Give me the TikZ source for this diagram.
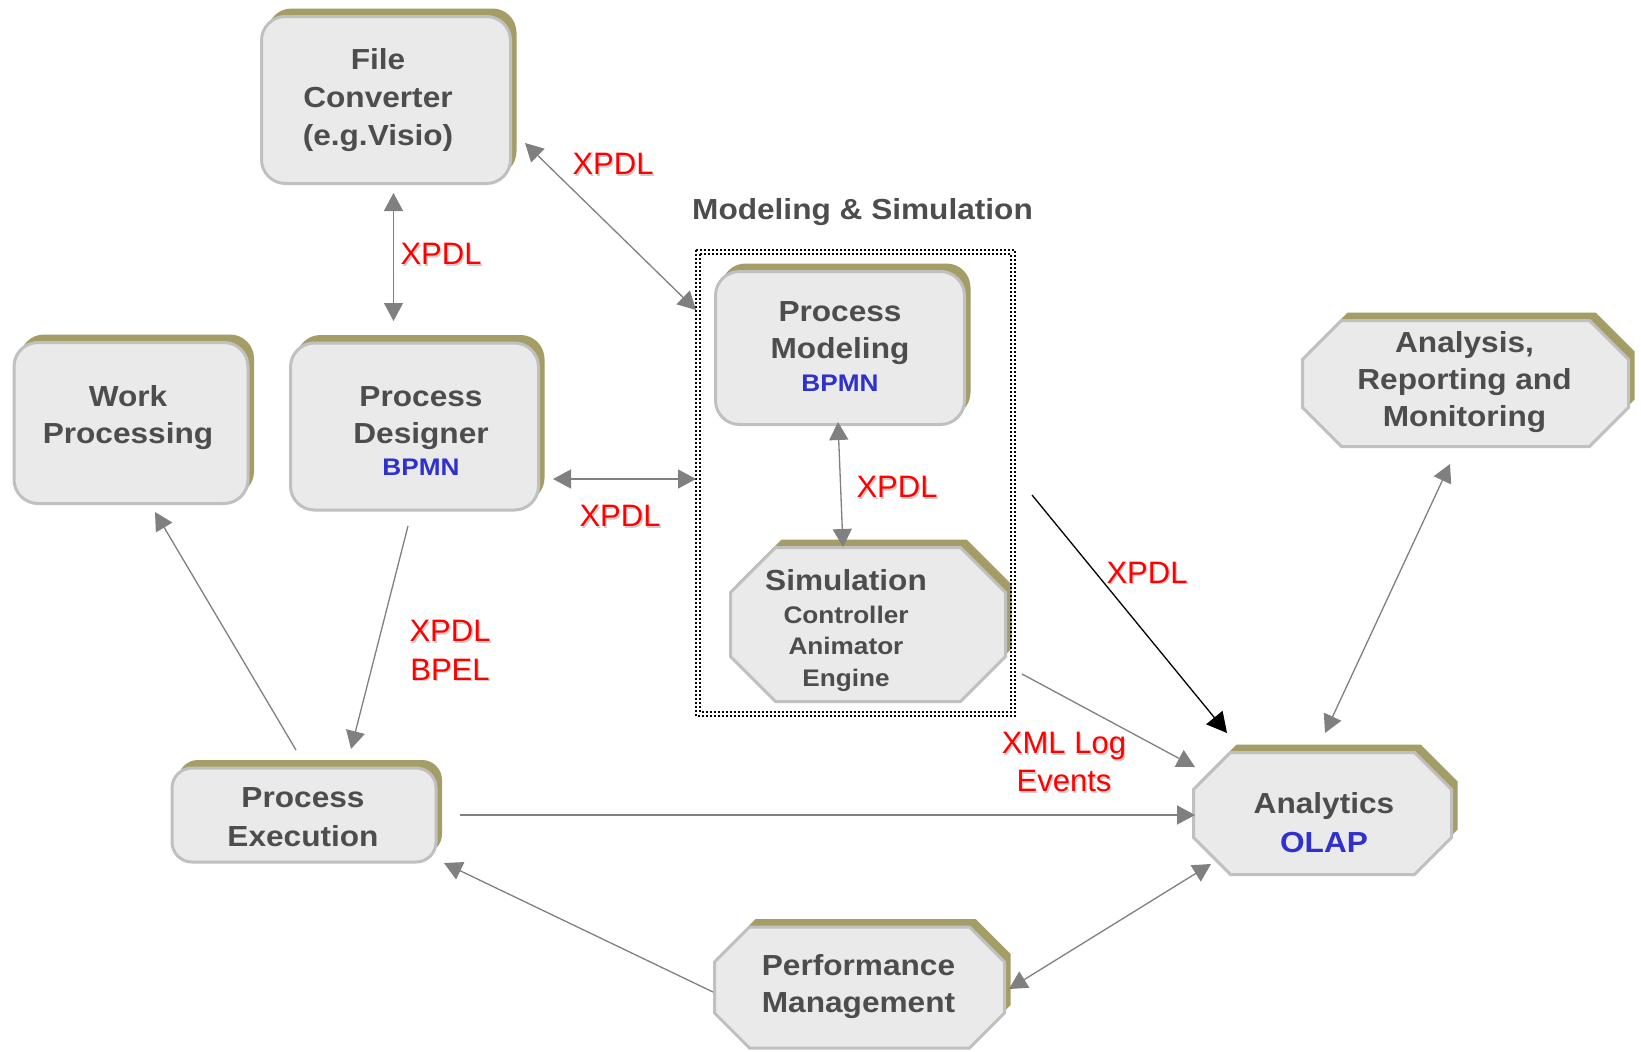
\documentclass[tikz,border=0pt]{standalone}
\usepackage{fontspec}
\setmainfont{Liberation Sans}
\newfontfamily\bx[FakeStretch=1.09]{Liberation Sans}
\usetikzlibrary{arrows.meta,shadows}
\definecolor{txtgray}{RGB}{77,77,77}
\definecolor{boxfill}{RGB}{234,234,234}
\definecolor{boxline}{RGB}{192,192,192}
\definecolor{olivesh}{RGB}{164,158,102}
\definecolor{bpmnblue}{RGB}{48,48,204}
\definecolor{arrgray}{RGB}{128,128,128}
\definecolor{shadgray}{RGB}{205,205,205}
\newcommand\fs{\rule{0pt}{24pt}}
\newcommand\octpath[3]{({-#1+#3},{-#2}) -- ({#1-#3},{-#2}) -- (#1,{-#2+#3}) -- (#1,{#2-#3}) -- ({#1-#3},#2) -- ({-#1+#3},#2) -- ({-#1},{#2-#3}) -- ({-#1},{-#2+#3}) -- cycle}
\newcommand\octbox[6]{%
  \begin{scope}[shift={(#2,#3)}]
    \fill[olivesh,shift={(6,-8)}] \octpath{#4}{#5}{#6};
    \filldraw[fill=boxfill,draw=boxline,line width=3pt] \octpath{#4}{#5}{#6};
  \end{scope}
  \node[inner sep=0pt,outer sep=0pt,minimum width={2*#4+3},minimum height={2*#5+3}] (#1) at (#2,#3) {};}
\newcommand\redlab[4]{%
  \node[rl,text=shadgray] (#1s) at ({#2+1.5},{#3+1.5}) {\fs #4};
  \node[rl] (#1) at (#2,#3) {\fs #4};}
\newcommand\subfnt{\fontsize{24}{28}\selectfont}
\begin{document}
\begin{tikzpicture}[x=1pt,y=-1pt,
  rbox/.style={rectangle,rounded corners=24pt,fill=boxfill,draw=boxline,line width=3pt,inner sep=0pt,
    general shadow={fill=olivesh,shadow xshift=6pt,shadow yshift=8pt}},
  tx/.style={anchor=north,inner sep=0pt,align=center,text=txtgray,font=\bx\bfseries\fontsize{29}{37.5}\selectfont},
  rl/.style={anchor=north,inner sep=0pt,align=center,text=red,font=\fontsize{31}{38.5}\selectfont},
  con/.style={draw=arrgray,line width=1.3pt},
  bi/.style={con,{Triangle[length=18pt,width=19pt]}-{Triangle[length=18pt,width=19pt]}},
  uni/.style={con,-{Triangle[length=18pt,width=19pt]}},
  blk/.style={draw=black,line width=1.3pt,-{Triangle[length=20pt,width=21pt]}}
]
\fill[white] (0,0) rectangle (1641,1052);
\useasboundingbox (0,0) rectangle (1641,1052);

% rounded boxes
\node[rbox,minimum width=249pt,minimum height=167pt] (fc) at (386,100) {};
\node[rbox,minimum width=234pt,minimum height=161pt] (wp) at (131,423) {};
\node[rbox,minimum width=248pt,minimum height=167pt] (pd) at (414.5,426.5) {};
\node[rbox,minimum width=249pt,minimum height=153pt] (pm) at (840,348) {};
\node[rbox,rounded corners=20pt,minimum width=264pt,minimum height=94pt] (pe) at (304,815) {};

% octagons
\octbox{sim}{868}{624.5}{137.5}{77}{45}
\octbox{ar}{1465.5}{383.5}{163}{63}{39}
\octbox{an}{1322.5}{813.5}{129}{61}{37}
\octbox{pf}{859.5}{987.5}{145}{60.5}{35}

% dotted frame
\draw[black,line width=2pt,dash pattern=on 2pt off 2pt] (696,250) rectangle (1015,716);
\draw[black,line width=2pt,dash pattern=on 2pt off 2pt] (700,254) rectangle (1011,712);
\node[inner sep=0pt,outer sep=0pt,minimum width=319pt,minimum height=466pt] (ms) at (855.5,483) {};

% texts
\node[tx] (fct) at (378,45) {\fs File\\[0.5pt]Converter\\[0.5pt](e.g.Visio)};
\node[tx] (wpt) at (128,382) {\fs Work\\Processing};
\node[tx] (pdt) at (421,382) {\fs Process\\Designer\\[-5.5pt]{\color{bpmnblue}\subfnt BPMN}};
\node[tx] (pmt) at (840,297) {\fs Process\\Modeling\\[-4.8pt]{\color{bpmnblue}\subfnt BPMN}};
\node[tx] (simt) at (846,566) {\fs Simulation\\[-4.6pt]{\subfnt Controller}\\[-6pt]{\subfnt Animator}\\[-5.5pt]{\subfnt Engine}};
\node[tx] (art) at (1464.5,328) {\fs Analysis,\\Reporting and\\[-0.5pt]Monitoring};
\node[tx] (ant) at (1324,789) {\fs Analytics\\[1.5pt]{\color{bpmnblue}OLAP}};
\node[tx] (pet) at (303,783) {\fs Process\\[1.5pt]Execution};
\node[tx] (pft) at (858.5,951) {\fs Performance\\[-0.5pt]Management};
\node[tx] (mst) at (862.5,195) {\fs Modeling \& Simulation};

% red labels
\redlab{l1}{613}{150.7}{XPDL}
\redlab{l2}{441}{240.7}{XPDL}
\redlab{l3}{620}{502.7}{XPDL}
\redlab{l4}{897}{473.7}{XPDL}
\redlab{l5}{450}{617.7}{XPDL\\BPEL}
\redlab{l6}{1147}{559.2}{XPDL}
\redlab{l7}{1064}{729.7}{XML Log\\[-0.5pt]Events}

% connectors
\draw[bi] ([xshift=7.5pt,yshift=-8pt]fc.south) -- ([xshift=-21pt,yshift=20.5pt]pd.north);
\draw[bi] ([xshift=13pt,yshift=-43pt]fc.east) -- ([yshift=-60pt]ms.north west);
\draw[bi] ([xshift=13pt,yshift=-52.5pt]pd.east) -- ([yshift=4pt]ms.west);
\draw[bi] ([xshift=-2pt,yshift=4pt]pm.south) -- ([xshift=-25pt,yshift=-1pt]sim.north);
\draw[uni] ([xshift=-6.5pt,yshift=-14.5pt]pd.south) -- ([xshift=47pt,yshift=17.5pt]pe.north);
\draw[uni] ([xshift=-8pt,yshift=16.5pt]pe.north) -- ([xshift=24pt,yshift=-7pt]wp.south);
\draw[uni] ([xshift=22.5pt]pe.east) -- ([xshift=3pt,yshift=-1.5pt]an.west);
\draw[uni] ([yshift=-4.5pt]pf.west) -- ([xshift=6.5pt,yshift=0.5pt]pe.south east);
\draw[bi] ([xshift=3pt,yshift=-1.5pt]pf.east) -- ([xshift=19pt,yshift=12pt]an.south west);
\draw[uni] ([xshift=15pt,yshift=-49.5pt]sim.east) -- ([xshift=3pt,yshift=-16pt]an.north west);
\coordinate (bs) at (1032,495);
\draw[blk] (bs) -- ([xshift=35pt,yshift=18pt]an.north west);
\draw[bi] ([xshift=-15.5pt,yshift=-16pt]ar.south) -- ([xshift=2.5pt,yshift=18pt]an.north);
\end{tikzpicture}
\end{document}
